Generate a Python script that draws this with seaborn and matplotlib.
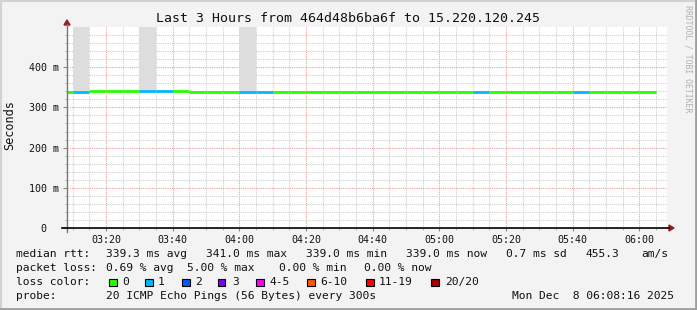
import matplotlib
matplotlib.use("Agg")
import matplotlib.pyplot as plt
from matplotlib.lines import Line2D
from matplotlib.patches import Rectangle, Polygon
import numpy as np
import pandas as pd
import seaborn as sns

# ---------------- data ----------------
title = "Last 3 Hours from 464d48b6ba6f to 15.220.120.245"
bin_times = ["03:05", "03:10", "03:15", "03:20", "03:25", "03:30", "03:35", "03:40",
             "03:45", "03:50", "03:55", "04:00", "04:05", "04:10", "04:15", "04:20",
             "04:25", "04:30", "04:35", "04:40", "04:45", "04:50", "04:55", "05:00",
             "05:05", "05:10", "05:15", "05:20", "05:25", "05:30", "05:35", "05:40",
             "05:45", "05:50", "05:55", "06:00"]
median_ms = [339.0, 339.0, 341.0, 341.0, 341.0, 341.0, 341.0, 341.0,
             339.0, 339.0, 339.0, 339.0, 339.0, 339.0, 339.0, 339.0,
             339.0, 339.0, 339.0, 339.0, 339.0, 339.0, 339.0, 339.0,
             339.0, 339.0, 339.0, 339.0, 339.0, 339.0, 339.0, 339.0,
             339.0, 339.0, 339.0, 339.0]
lost_pings = [0, 1, 0, 0, 0, 1, 1, 0,
              0, 0, 0, 1, 1, 0, 0, 0,
              0, 0, 0, 0, 0, 0, 0, 0,
              0, 1, 0, 0, 0, 0, 0, 1,
              0, 0, 0, 0]
smoke_top_ms = [None, 520, None, None, None, 520, None, None,
                None, None, None, 520, None, None, None, None,
                None, None, None, None, None, None, None, None,
                None, None, None, None, None, None, None, None,
                None, None, None, None]
window_start = "03:08:16"
window_end = "06:08:16"
x_tick_labels = ["03:20", "03:40", "04:00", "04:20", "04:40", "05:00", "05:20", "05:40", "06:00"]
y_tick_values = [0, 100, 200, 300, 400]
y_tick_labels = ["0  ", "100 m", "200 m", "300 m", "400 m"]
loss_labels = ["0", "1", "2", "3", "4-5", "6-10", "11-19", "20/20"]
loss_colors = ["#26ff00", "#00b8ff", "#0059ff", "#7e00ff", "#ff00ff", "#ff5500", "#ff0000", "#a10000"]
stats_rtt = ["339.3 ms avg", "341.0 ms max", "339.0 ms min", "339.0 ms now", "0.7 ms sd", "455.3", "am/s"]
stats_loss = ["0.69 % avg", "5.00 % max", "0.00 % min", "0.00 % now"]
probe_text = "20 ICMP Echo Pings (56 Bytes) every 300s"
stamp_text = "Mon Dec  8 06:08:16 2025"
bin_minutes = 5


def to_min(s):
    parts = [int(p) for p in s.split(":")]
    m = (parts[0] - 3) * 60 + parts[1]
    if len(parts) > 2:
        m += parts[2] / 60.0
    return m


x0, x1 = to_min(window_start), to_min(window_end)

rows = []
for i, (t, v, l) in enumerate(zip(bin_times, median_ms, lost_pings)):
    s = max(to_min(t), x0)
    e = to_min(t) + bin_minutes
    rows.append(dict(seg=i, t=s, v=v, loss=str(l)))
    rows.append(dict(seg=i, t=e, v=v, loss=str(l)))
df = pd.DataFrame(rows)

# ---------------- figure ----------------
W, H = 697, 310
BG = "#f3f3f3"
fig = plt.figure(figsize=(W / 100, H / 100), dpi=100, facecolor=BG)
MONO = "DejaVu Sans Mono"

L, R, T, B = 67, 667, 27, 228
ax = fig.add_axes([L / W, 1 - B / H, (R - L) / W, (B - T) / H])
ax.set_facecolor("white")
ax.set_xlim(x0, x1)
ax.set_ylim(0, 500)

# grid
minor_x = np.arange(10, 190, 5)
major_x = np.arange(20, 190, 20)
for xm in minor_x:
    if xm % 20:
        ax.axvline(xm, color="#cfcfcf", lw=0.8, ls=(0, (1, 1)), zorder=1)
for xm in major_x:
    ax.axvline(xm, color="#f0a0a0", lw=0.8, ls=(0, (1, 1)), zorder=1)
for ym in np.arange(20, 500, 20):
    if ym % 100:
        ax.axhline(ym, color="#cfcfcf", lw=0.8, ls=(0, (1, 1)), zorder=1)
for ym in y_tick_values[1:]:
    ax.axhline(ym, color="#f0a0a0", lw=0.8, ls=(0, (1, 1)), zorder=1)

# smoke
for t, v, s in zip(bin_times, median_ms, smoke_top_ms):
    if s is not None:
        st = max(to_min(t), x0)
        ax.fill_between([st, to_min(t) + bin_minutes], v, s, color="#dddddd", lw=0, zorder=2)

pal = {lab: c for lab, c in zip(loss_labels, loss_colors)}
sns.lineplot(data=df, x="t", y="v", hue="loss", units="seg", estimator=None,
             palette={k: pal[k] for k in df["loss"].unique()}, legend=False,
             linewidth=2.0, ax=ax, zorder=3, solid_capstyle="butt")

for sp in ax.spines.values():
    sp.set_visible(False)
ax.set_xlabel("")
ax.set_ylabel("")
ax.set_xticks(list(major_x))
ax.set_xticklabels(x_tick_labels, family=MONO, fontsize=7.2, color="#111111")
ax.set_yticks(y_tick_values)
ax.set_yticklabels(y_tick_labels, family=MONO, fontsize=7.2, color="#111111")
ax.tick_params(axis="x", length=2, width=0.8, color="#888888", pad=3)
ax.tick_params(axis="y", length=3, width=0.8, color="#888888", pad=3)
ax.set_xticks(list(minor_x), minor=True)
ax.set_yticks(list(np.arange(20, 500, 20)), minor=True)
ax.tick_params(which="minor", length=1.5, width=0.6, color="#aaaaaa")

# axis lines with arrows (pixel coords -> figure coords)
def fx(px):
    return px / W

def fy(py):
    return 1 - py / H

fig.add_artist(Line2D([fx(67), fx(67)], [fy(232), fy(24)], color="#777777", lw=1.0))
fig.add_artist(Line2D([fx(62), fx(669)], [fy(228), fy(228)], color="#000000", lw=1.2))
fig.add_artist(Polygon([[fx(64), fy(25)], [fx(70), fy(25)], [fx(67), fy(20)]],
                       closed=True, color="#9b1c1c", transform=fig.transFigure))
fig.add_artist(Polygon([[fx(669), fy(225)], [fx(669), fy(231)], [fx(674), fy(228)]],
                       closed=True, color="#9b1c1c", transform=fig.transFigure))

# border
fig.add_artist(Line2D([fx(0.5), fx(0.5)], [fy(0), fy(H)], color="#d2d2d2", lw=1.5))
fig.add_artist(Line2D([fx(0), fx(W)], [fy(0.5), fy(0.5)], color="#d2d2d2", lw=1.5))
fig.add_artist(Line2D([fx(W - 1), fx(W - 1)], [fy(0), fy(H)], color="#9e9e9e", lw=2))
fig.add_artist(Line2D([fx(0), fx(W)], [fy(H - 1), fy(H - 1)], color="#9e9e9e", lw=2))

# texts
fig.text(fx(348), fy(19), title, family=MONO, fontsize=9.5, ha="center", va="center", color="#111111")
fig.text(fx(10), fy(125), "Seconds", family=MONO, fontsize=8.6, rotation=90,
         ha="center", va="center", color="#111111")
fig.text(fx(688), fy(5), "RRDTOOL / TOBI OETIKER", family=MONO, fontsize=5.9, rotation=270,
         ha="center", va="top", color="#b0b0b0")

FS = 8.1
def row(px, py, s):
    fig.text(fx(px), fy(py), s, family=MONO, fontsize=FS, ha="left", va="center", color="#111111")

y1, y2, y3, y4 = 254, 268, 282, 296
row(16, y1, "median rtt:")
for px, s in zip([106, 206, 306, 406, 506, 586, 641], stats_rtt):
    row(px, y1, s)
row(16, y2, "packet loss:")
for px, s in zip([106, 187, 279, 364], stats_loss):
    row(px, y2, s)
row(16, y3, "loss color:")
box_x = [109, 145, 182, 218, 256, 307, 366, 431]
lab_x = [122, 158, 195, 232, 269, 320, 379, 445]
for bx, lx, lab, c in zip(box_x, lab_x, loss_labels, loss_colors):
    fig.add_artist(Rectangle((fx(bx), fy(y3 + 4)), 7.5 / W, 7.5 / H, facecolor=c,
                             edgecolor="black", lw=0.8, transform=fig.transFigure))
    row(lx, y3, lab)
row(16, y4, "probe:")
row(106, y4, probe_text)
row(512, y4, stamp_text)

fig.savefig("out.png", dpi=100, facecolor=BG)
